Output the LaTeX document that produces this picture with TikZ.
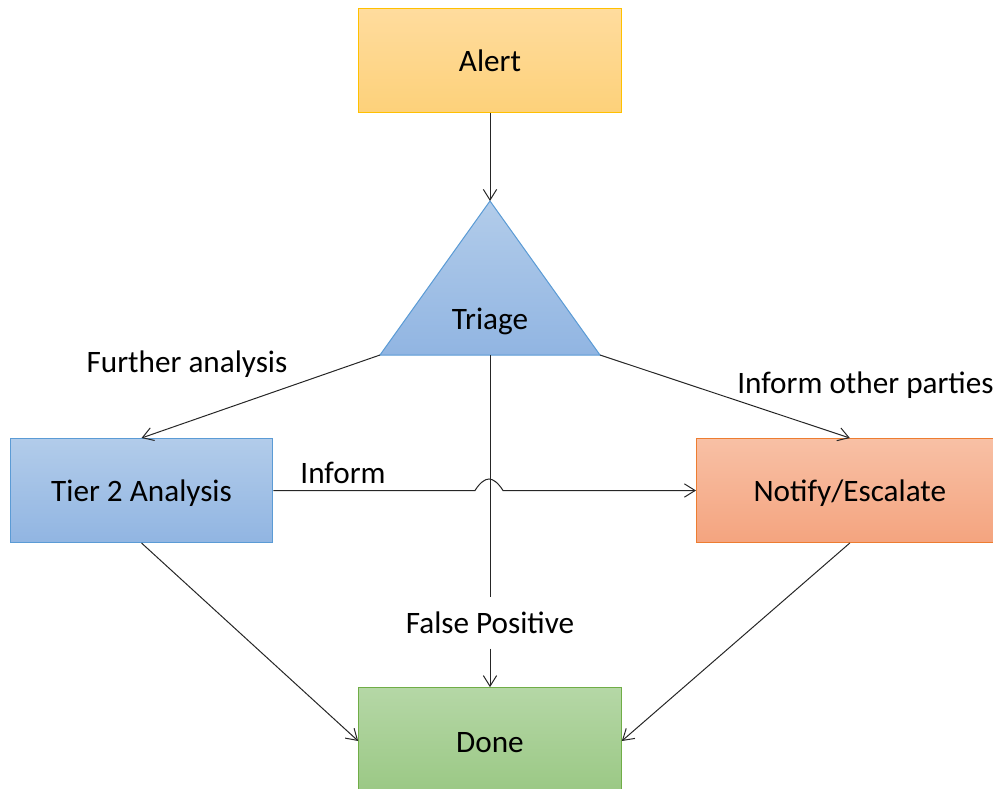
\documentclass[tikz,border=0pt]{standalone}
\usepackage{fontspec}
\setmainfont{Carlito}
\usetikzlibrary{arrows.meta,positioning}
\definecolor{goldtop}{HTML}{FFDC9E}
\definecolor{goldbot}{HTML}{FDD17A}
\definecolor{goldline}{HTML}{FFC000}
\definecolor{skytop}{HTML}{B2CCEA}
\definecolor{skybot}{HTML}{91B5E2}
\definecolor{skyline}{HTML}{5B9BD5}
\definecolor{rusttop}{HTML}{F8C0A5}
\definecolor{rustbot}{HTML}{F4A47F}
\definecolor{rustline}{HTML}{ED7D31}
\definecolor{leaftop}{HTML}{B5D7A6}
\definecolor{leafbot}{HTML}{9AC884}
\definecolor{leafline}{HTML}{70AD47}

\begin{document}
\begin{tikzpicture}[
  x=0.75pt, y=-0.75pt,
  font=\fontsize{23.4}{28}\selectfont,
  >={Straight Barb[length=8pt,width=10pt]},
  box/.style    = {draw, line width=0.75pt, inner sep=0pt,
                   text height=18pt, text depth=1.5pt,
                   minimum width=197pt, minimum height=78pt},
  alertbox/.style  = {box, draw=goldline, top color=goldtop, bottom color=goldbot},
  tierbox/.style   = {box, draw=skyline, top color=skytop, bottom color=skybot},
  notifybox/.style = {box, draw=rustline, top color=rusttop, bottom color=rustbot},
  donebox/.style   = {box, draw=leafline, top color=leaftop, bottom color=leafbot},
  lbl/.style    = {inner sep=0pt},
  flow/.style   = {->, draw=black!85, line width=0.75pt},
  wire/.style   = {draw=black!85, line width=0.75pt},
]
\useasboundingbox (0,0) rectangle (993,789);

% ---- triage triangle ----------------------------------------------------
\coordinate (triTop)   at (490,201);
\coordinate (triLeft)  at (380,355);
\coordinate (triRight) at (600,355);
\coordinate (triBase)  at (490,355);
\path[draw=skyline, line width=0.75pt, top color=skytop, bottom color=skybot]
  (triTop) -- (triRight) -- (triLeft) -- cycle;
\node[lbl] (triage) at (490,321) {Triage};

% ---- boxes --------------------------------------------------------------
\node[alertbox] (alert) at (490,60) {Alert};
\node[tierbox] (tier) at (141.5,490.5) {Tier 2 Analysis};
\node[notifybox, minimum width=230pt, anchor=west] (notify) at (696,490.5) {Notify/Escalate};
\node[donebox, minimum height=80pt] (done) at (490,741) {Done};

% ---- labels -------------------------------------------------------------
\node[lbl] (further) at (187,364) {Further analysis};
\node[lbl, anchor=west] (others) at (737,385) {Inform other parties};
\node[lbl] (inform) at (343,473) {Inform};
\node[lbl, fill=white, minimum height=38pt] (falsepos) at (490,623) {False Positive};

% ---- edges --------------------------------------------------------------
\draw[flow] (alert.south) -- (triTop);
\draw[flow] (triLeft) -- (tier.north);
\draw[flow] (triRight) -- (notify.north);
\draw[wire] (triBase) -- (falsepos.north);
\draw[flow] (falsepos.south) -- (done.north);
\draw[flow] (tier.south) -- (done.west);
\draw[flow] (notify.south) -- (done.east);

% the Inform line hops over the false positive line
\coordinate (hopL)   at (475,490.5);
\coordinate (hopTop) at (489,479);
\coordinate (hopR)   at (503,490.5);
\draw[flow] (tier.east) -- (hopL)
  .. controls +(5,-8) and +(-4,0) .. (hopTop)
  .. controls +(4,0) and +(-5,-8) .. (hopR) -- (notify.west);

\end{tikzpicture}
\end{document}
